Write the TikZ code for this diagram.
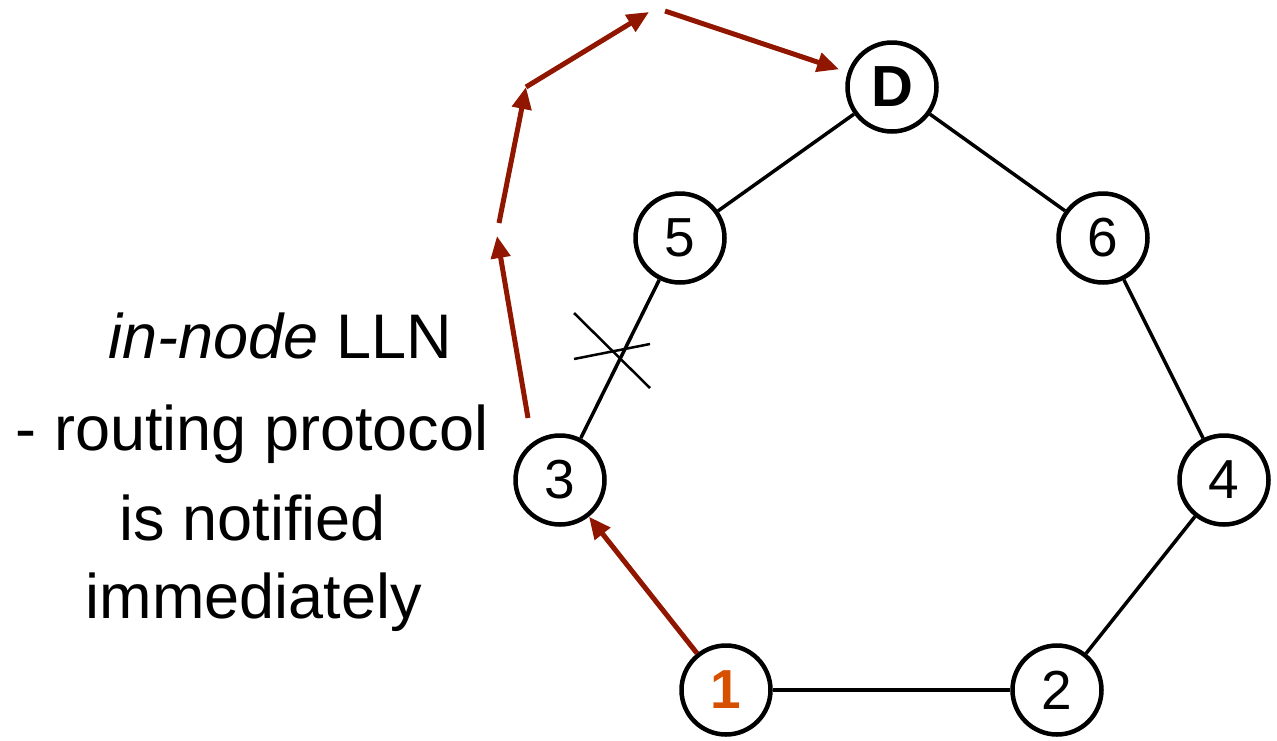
\documentclass[tikz,border=0pt]{standalone}
\usepackage{fontspec}
\setmainfont{Liberation Sans}
\usetikzlibrary{arrows.meta}
\definecolor{pathred}{RGB}{145,22,0}
\definecolor{srcorange}{RGB}{214,80,0}
\begin{document}
\begin{tikzpicture}[x=1pt,y=-1pt,
  router/.style={circle,draw=black,line width=4.5pt,minimum size=89pt,inner sep=0pt,
    font=\fontsize{55}{55}\selectfont},
  link/.style={line width=3.5pt,draw=black},
  detour/.style={line width=5pt,draw=pathred,-{Triangle[length=22pt,width=19pt]}},
  breakmark/.style={line width=2.5pt,draw=black},
  caption/.style={anchor=base,inner sep=0pt,font=\fontsize{63}{63}\selectfont}]
  \useasboundingbox (0,0) rectangle (1277,740);

  % routers
  \node[router,font=\fontsize{58}{58}\selectfont\bfseries] (nD) at (892,87) {D};
  \node[router] (n5) at (680,238) {5};
  \node[router] (n6) at (1103,238) {6};
  \node[router] (n3) at (560,480) {3};
  \node[router] (n4) at (1224,480) {4};
  \node[router,text=srcorange,font=\fontsize{55}{55}\selectfont\bfseries] (n1) at (726,690) {1};
  \node[router] (n2) at (1057,690) {2};

  % links
  \draw[link] (nD) -- (n5);
  \draw[link] (nD) -- (n6);
  \draw[link] (n6) -- (n4);
  \draw[link] (n4) -- (n2);
  \draw[link] (n2) -- (n1);
  \draw[link] (n5) -- (n3);

  % broken link mark
  \draw[breakmark] (574,313) -- (650,388);
  \draw[breakmark] (574,359) -- (650,344);

  % rerouted path
  \coordinate (a0) at (528,418);
  \coordinate (a1) at (497,236);
  \coordinate (b0) at (499,223);
  \coordinate (b1) at (526,87);
  \coordinate (c1) at (649,12);
  \coordinate (d0) at (665,11);
  \draw[detour] (n1) -- (n3);
  \draw[detour] (a0) -- (a1);
  \draw[detour] (b0) -- (b1);
  \draw[detour] (b1) -- (c1);
  \draw[detour,shorten >=9pt] (d0) -- (nD);

  % caption
  \node[caption] (t1) at (280,358) {\itshape in-node\upshape\ LLN};
  \node[caption] (t2) at (252,450) {- routing protocol};
  \node[caption] (t3) at (253,540) {is notified};
  \node[caption] (t4) at (254,618) {immediately};
\end{tikzpicture}
\end{document}
